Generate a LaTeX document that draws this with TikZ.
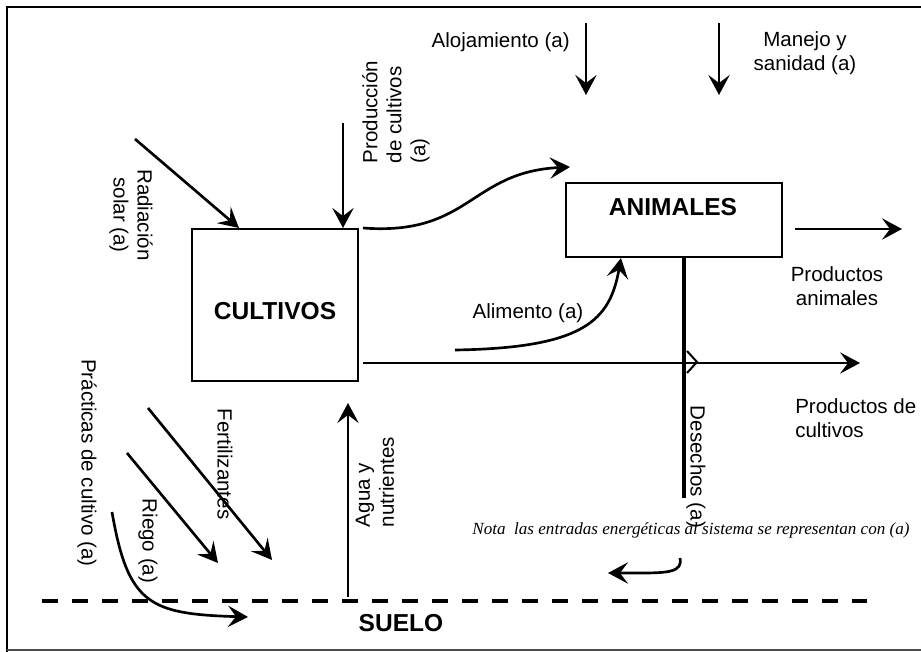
\documentclass[tikz,border=0pt]{standalone}
\usepackage{fontspec}
\setmainfont{Liberation Sans}
\newfontfamily\notafont{Liberation Serif}
\usetikzlibrary{arrows.meta, positioning}

\begin{document}
\begin{tikzpicture}[x=0.75pt, y=-0.75pt,
    lbl/.style={font=\fontsize{15.4}{18}\selectfont, inner sep=0pt, align=center},
    boxlbl/.style={font=\fontsize{18.4}{22}\selectfont\bfseries, inner sep=0pt},
    caja/.style={draw, line width=1.5pt, inner sep=0pt},
    flujo/.style={line width=2pt, -{Stealth[length=15pt, width=16pt, inset=6pt]}}]
    \useasboundingbox (0,0) rectangle (921,652);
    % Marco
    \draw[line width=2pt] (7,652) -- (7,7) -- (921,7);
    \draw[line width=0.9pt, black!70] (7,650) -- (921,650);
    % Cajas
    \node[caja, minimum width=124.5pt, minimum height=114pt] (cultivos) at (275,305) {};
    \node[boxlbl] (cultivostxt) at (275,311) {CULTIVOS};
    \node[caja, minimum width=162pt, minimum height=55.5pt] (animales) at (674,220) {};
    \node[boxlbl] (animalestxt) at (673,207) {ANIMALES};
    % Suelo
    \coordinate (suelo0) at (42,601);
    \coordinate (suelo1) at (867,601);
    \draw[line width=3pt, dash pattern=on 12pt off 10.5pt] (suelo0) -- (suelo1);
    \node[boxlbl] (suelotxt) at (401,623) {SUELO};
    % Entradas de arriba
    \coordinate (aloj0) at (586,23);
    \coordinate (aloj1) at (586,95);
    \draw[flujo] (aloj0) -- (aloj1);
    \node[lbl, anchor=east] (alojtxt) at (570,42) {Alojamiento (a)};
    \coordinate (manejo0) at (719,23);
    \coordinate (manejo1) at (719,95);
    \draw[flujo] (manejo0) -- (manejo1);
    \node[lbl] (manejotxt) at (805,53) {Manejo y\\sanidad (a)};
    % Entradas a cultivos
    \coordinate (rad0) at (135,139);
    \draw[flujo] (rad0) -- ([xshift=36pt]cultivos.north west);
    \node[lbl, rotate=-90] (radtxt) at (131,215) {Radiación\\solar (a)};
    \coordinate (prod0) at (343,123);
    \draw[flujo] (prod0) -- (prod0 |- cultivos.north);
    \node[lbl, rotate=90, align=left] (prodtxt) at (396,112) {Producción\\de cultivos\\(a)};
    % Cultivos a animales
    \coordinate (cultanim) at (570,167);
    \draw[flujo] ([xshift=3pt]cultivos.north east) .. controls (470,236) and (470,172) .. (cultanim);
    \coordinate (alim0) at (455,350);
    \draw[flujo] (alim0) .. controls (585,348) and (610,320) .. ([xshift=42pt]animales.south west);
    \node[lbl] (alimtxt) at (528,313) {Alimento (a)};
    % Salidas
    \coordinate (panim0) at (795,229);
    \coordinate (panim1) at (902,229);
    \draw[flujo] (panim0) -- (panim1);
    \node[lbl] (panimtxt) at (837,286) {Productos\\animales};
    \coordinate (pcult1) at (860,363);
    \draw[flujo] (cultivos.east |- pcult1) ++(3pt,0) -- (pcult1);
    \node[lbl, align=left, anchor=west] (pculttxt) at (795,418) {Productos de\\cultivos};
    % Desechos
    \coordinate (des1) at (684,498);
    \draw[line width=3.4pt] (des1 |- animales.south) -- (des1);
    \draw[line width=1.5pt] (687,351) -- (697,362) -- (687,373);
    \node[lbl, rotate=-90] (destxt) at (696,467) {Desechos (a)};
    \coordinate (ret0) at (680,558);
    \coordinate (ret1) at (608,573);
    \draw[flujo] (ret0) .. controls (683,572) and (668,573) .. (640,573) -- (ret1);
    % Nota
    \node[inner sep=0pt, font=\notafont\itshape\fontsize{12.8}{15}\selectfont] (nota) at (691,530)
        {Nota\ \ las entradas energéticas al sistema se representan con (a)};
    % Entradas al suelo
    \coordinate (fert0) at (148,408);
    \coordinate (fert1) at (272,560);
    \draw[flujo] (fert0) -- (fert1);
    \node[lbl, rotate=-90] (ferttxt) at (225,464) {Fertilizantes};
    \coordinate (riego0) at (127,453);
    \coordinate (riego1) at (218,563);
    \draw[flujo] (riego0) -- (riego1);
    \node[lbl, rotate=-90] (riegotxt) at (148,541) {Riego (a)};
    \coordinate (prac0) at (112,512);
    \coordinate (prac1) at (248,617);
    \draw[flujo] (prac0) .. controls (128,605) and (150,614) .. (prac1);
    \node[lbl, rotate=-90] (practxt) at (87,463) {Prácticas de cultivo (a)};
    % Agua y nutrientes
    \coordinate (agua0) at (348,597);
    \coordinate (agua1) at (348,403);
    \draw[flujo] (agua0) -- (agua1);
    \node[lbl, rotate=90, align=left] (aguatxt) at (375,482) {Agua y\\nutrientes};
\end{tikzpicture}
\end{document}
